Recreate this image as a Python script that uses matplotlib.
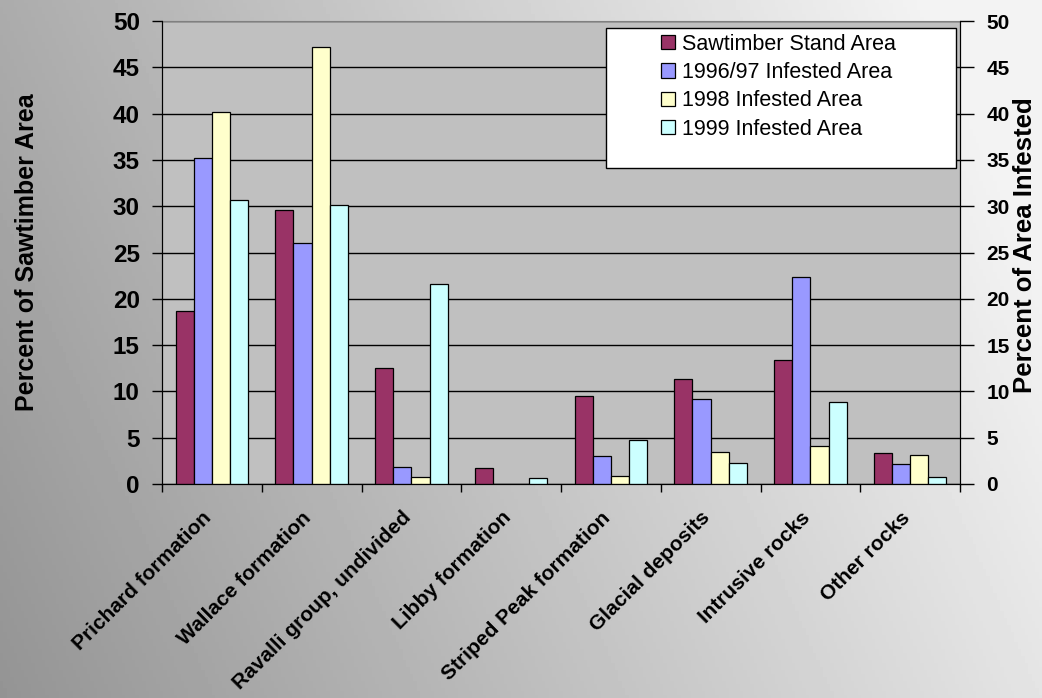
import numpy as np
import matplotlib.pyplot as plt
from matplotlib.patches import Rectangle

plt.rcParams['font.family'] = ['Liberation Sans', 'DejaVu Sans']

categories = ["Prichard formation", "Wallace formation", "Ravalli group, undivided",
              "Libby formation", "Striped Peak formation", "Glacial deposits",
              "Intrusive rocks", "Other rocks"]
sawtimber = [18.7, 29.6, 12.5, 1.7, 9.5, 11.3, 13.4, 3.3]
infested_9697 = [35.2, 26.0, 1.8, 0.0, 3.0, 9.2, 22.4, 2.2]
infested_1998 = [40.2, 47.2, 0.8, 0.0, 0.9, 3.5, 4.1, 3.1]
infested_1999 = [30.7, 30.1, 21.6, 0.65, 4.8, 2.3, 8.9, 0.8]
series_names = ["Sawtimber Stand Area", "1996/97 Infested Area",
                "1998 Infested Area", "1999 Infested Area"]
yticks = list(range(0, 51, 5))

COLORS = ["#993366", "#9999FF", "#FFFFCC", "#CCFFFF"]

fig = plt.figure(figsize=(10.42, 6.98), dpi=100)

# background gradient (dark bottom-left -> white top-right)
bg = fig.add_axes([0, 0, 1, 1], zorder=-10)
xx, yy = np.meshgrid(np.linspace(0, 1, 300), np.linspace(0, 1, 200))
t = np.clip(0.85 * xx + 0.25 * yy, 0, 1)
shade = 0.58 + 0.37 * t
bg.imshow(shade, cmap='gray', vmin=0, vmax=1, origin='lower', aspect='auto',
          extent=[0, 1, 0, 1])
bg.axis('off')

ax = fig.add_axes([0.1555, 0.3066, 0.7658, 0.6633])
ax.set_facecolor("#C0C0C0")

x = np.arange(len(categories))
bw = 0.182
data = [sawtimber, infested_9697, infested_1998, infested_1999]
handles = []
for i, (vals, col, name) in enumerate(zip(data, COLORS, series_names)):
    h = ax.bar(x + (i - 1.5) * bw, vals, width=bw, color=col, edgecolor='black',
               linewidth=0.9, label=name, zorder=3)
    handles.append(h)

ax.set_xlim(-0.5, len(categories) - 0.5)
ax.set_ylim(0, 50)
ax.set_yticks(yticks)
ax.set_yticklabels([str(v) for v in yticks], fontsize=17.5, fontweight='bold')
ax.yaxis.grid(True, color='black', linewidth=1.0, zorder=1)
ax.set_axisbelow(True)
ax.set_xticks(np.arange(-0.5, len(categories), 1.0))
ax.set_xticklabels([])
ax.tick_params(axis='x', length=6, width=1, direction='out')
ax.tick_params(axis='y', length=7, width=1, direction='out', pad=9)
for c, name in zip(x, categories):
    ax.text(c - 0.1, -2.6, name, rotation=45, ha='right', va='top',
            rotation_mode='anchor', fontsize=15, fontweight='bold')

ax.spines['top'].set_color('#808080')
for s in ('bottom', 'left', 'right'):
    ax.spines[s].set_color('black')

ax2 = ax.twinx()
ax2.set_ylim(0, 50)
ax2.set_yticks(yticks)
ax2.set_yticklabels([str(v) for v in yticks], fontsize=15, fontweight='bold')
ax2.tick_params(axis='y', length=10, width=1, direction='out', pad=9)
ax2.spines['top'].set_visible(False)

fig.text(27 / 1042, 1 - 252 / 698, "Percent of Sawtimber Area", rotation=90,
         ha='center', va='center', fontsize=18, fontweight='bold')
fig.text(1025 / 1042, 1 - 245 / 698, "Percent of Area Infested", rotation=90,
         ha='center', va='center', fontsize=18.5, fontweight='bold')

# legend with a taller frame than its content
ax2.add_patch(Rectangle((0.557, 0.682), 0.438, 0.302, transform=ax.transAxes,
                        facecolor='white', edgecolor='black', linewidth=1.0, zorder=5,
                        clip_on=False))
leg = ax2.legend(handles=handles, labels=series_names, loc='upper left',
                 bbox_to_anchor=(0.615, 0.991), frameon=False, fontsize=15.5,
                 handlelength=0.65, handleheight=0.65, handletextpad=0.3,
                 labelspacing=0.34, borderaxespad=0)
leg.set_zorder(6)

fig.savefig("out.png", dpi=100)
